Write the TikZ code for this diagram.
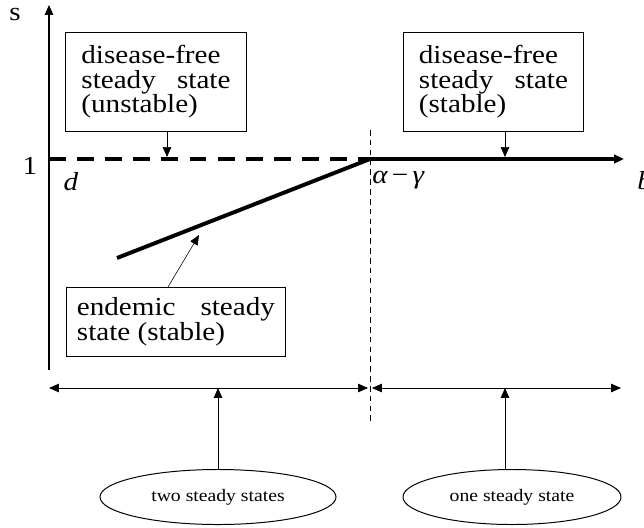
\documentclass[tikz,border=0pt]{standalone}
\usepackage{fontspec}
\setmainfont{Liberation Serif}
\newfontfamily\wideserif{Liberation Serif}[FakeStretch=1.12]
\usepackage{tikz}
\usetikzlibrary{arrows.meta,shapes.geometric}

\begin{document}
\begin{tikzpicture}[x=0.025cm, y=-0.025cm, >={Triangle[length=7pt,width=6pt]},
    every node/.style={font=\wideserif\fontsize{18.5}{17.5}\selectfont, inner sep=0pt},
    statebox/.style={draw, line width=0.6pt, anchor=north west},
    regime/.style={draw, line width=0.7pt, ellipse, font=\wideserif\fontsize{12.5}{13}\selectfont}]
    \useasboundingbox (0,0) rectangle (644,527);

    % axes
    \coordinate (o) at (49,370);
    \coordinate (stop) at (49,5);
    \draw[->, line width=0.8pt] (o) -- (stop);
    \node (s) at (15,14) {s};
    \node (one) at (30,166) {1};
    \node (d) at (71,182) {\itshape d};
    \node[anchor=west] (crit) at (372,180) {\itshape α\,\upshape −\,\itshape γ};
    \node[anchor=west] (b) at (637,181) {\itshape b};

    % steady state branches
    \coordinate (left) at (49,159);
    \coordinate (knee) at (370,159);
    \coordinate (right) at (624,159);
    \coordinate (low) at (117,258);
    \draw[line width=2.8pt, dash pattern=on 12pt off 8pt] (left) -- (knee);
    \draw[->, line width=2.8pt] (knee) -- (right);
    \draw[line width=2.8pt] (low) -- (knee);

    % threshold
    \coordinate (ttop) at (370,130);
    \coordinate (tbot) at (370,424);
    \draw[line width=0.6pt, dash pattern=on 4pt off 3pt] (ttop) -- (tbot);

    % boxes
    \node[statebox, minimum width=4.525cm, minimum height=2.475cm] (dfu) at (65,32)
        {\parbox{3.725cm}{disease-free\\steady\hfill state\\(unstable)}};
    \node[statebox, minimum width=4.5cm, minimum height=2.475cm] (dfs) at (403,32)
        {\parbox{3.725cm}{disease-free\\steady\hfill state\\(stable)}};
    \node[statebox, minimum width=5.475cm, minimum height=1.725cm] (end) at (66,287)
        {\parbox{4.95cm}{endemic\hfill steady\\state (stable)}};
    \draw[->] (dfu.south -| 167,0) -- (167,157);
    \draw[->] (dfs.south -| 505,0) -- (505,157);
    \draw[->] (end.north -| 168,0) -- (199,235);

    % regimes
    \coordinate (pl) at (49,388);
    \coordinate (pm) at (368,388);
    \coordinate (pn) at (372,388);
    \coordinate (pr) at (621,388);
    \draw[<->, line width=0.6pt] (pl) -- (pm);
    \draw[<->, line width=0.6pt] (pn) -- (pr);
    \node[regime, minimum width=5.9cm, minimum height=1.375cm] (two) at (218,497) {two steady states};
    \node[regime, minimum width=5.45cm, minimum height=1.375cm] (single) at (512,497) {one steady state};
    \draw[->, line width=0.6pt] (two.north) -- (two.north |- pl);
    \draw[->, line width=0.6pt] (single.north -| 505,0) -- (505,388);
\end{tikzpicture}
\end{document}
